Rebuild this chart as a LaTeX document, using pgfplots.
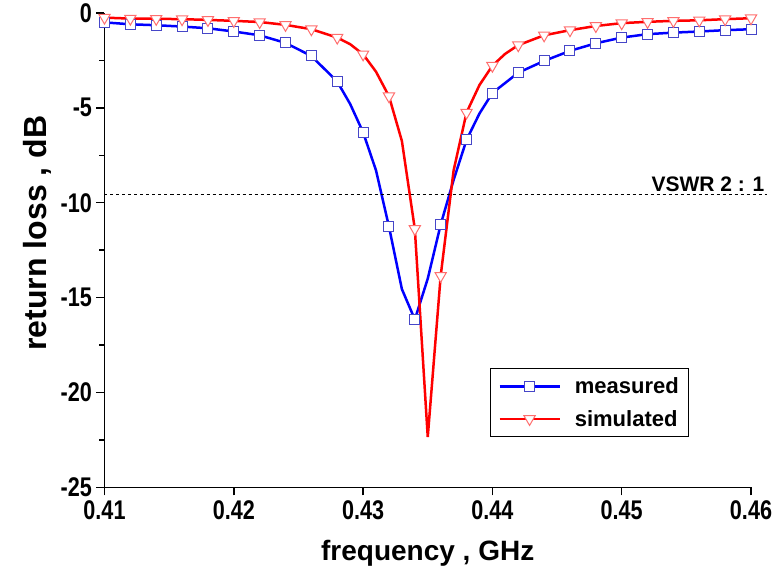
\documentclass[border=0pt]{standalone}
\usepackage{pgfplots}
\pgfplotsset{compat=1.18}
\usepackage{fontspec}
\setmainfont{Liberation Sans}
\newfontfamily\narrowfont{Liberation Sans}[FakeStretch=0.8]
\definecolor{mblue}{RGB}{70,70,200}
\definecolor{mred}{RGB}{255,110,110}
\begin{document}
\begin{tikzpicture}
\begin{axis}[
  scale only axis, width=646.5pt, height=474.6pt,
  xmin=0.41, xmax=0.46, ymin=-25, ymax=0,
  axis x line*=bottom, axis y line*=left,
  axis line style={line width=1.8pt},
  every tick/.style={black, line width=1.5pt},
  tick align=outside,
  major tick length=8pt, minor tick length=5pt,
  xtick={0.41,0.42,0.43,0.44,0.45,0.46},
  xticklabels={0.41,0.42,0.43,0.44,0.45,0.46},
  ytick={-25,-20,-15,-10,-5,0},
  minor ytick={-22.5,-17.5,-12.5,-7.5,-2.5},
  /pgf/number format/assume math mode=true,
  ticklabel style={font=\fontsize{27}{27}\selectfont\narrowfont\bfseries},
  xticklabel style={yshift=-2pt},
  yticklabel style={xshift=-1pt},
  xlabel={frequency , GHz},
  ylabel={return loss , dB},
  xlabel style={font=\fontsize{28}{28}\selectfont\bfseries, at={(axis description cs:0.5,-0.139)}, anchor=center},
  ylabel style={font=\fontsize{32}{32}\selectfont\bfseries, at={(axis description cs:-0.104,0.536)}, anchor=center},
  clip=false,
  legend style={at={(0.596,0.106)}, anchor=south west, draw=black, line width=1pt,
    font=\fontsize{22}{22}\selectfont\bfseries, inner xsep=8pt, inner ysep=7pt,
    row sep=11pt, cells={anchor=west},
    /tikz/every odd column/.append style={column sep=12pt}},
  legend cell align=left,
]
\addplot[blue, line width=2.5pt, forget plot] coordinates {
(0.410,-0.50) (0.412,-0.60) (0.414,-0.65) (0.416,-0.72) (0.418,-0.81)
(0.420,-0.98) (0.422,-1.18) (0.424,-1.58) (0.426,-2.27) (0.428,-3.62)
(0.429,-4.80) (0.430,-6.29) (0.431,-8.30) (0.432,-11.26) (0.433,-14.55)
(0.434,-16.15) (0.435,-14.00) (0.436,-11.15) (0.437,-8.80) (0.438,-6.69)
(0.439,-5.30) (0.440,-4.22) (0.442,-3.15) (0.444,-2.53) (0.446,-2.00)
(0.448,-1.60) (0.450,-1.30) (0.452,-1.12) (0.454,-1.04) (0.456,-0.98)
(0.458,-0.91) (0.460,-0.86)};
\addplot[red, line width=2.5pt, forget plot] coordinates {
(0.410,-0.25) (0.412,-0.30) (0.414,-0.31) (0.416,-0.33) (0.418,-0.37)
(0.420,-0.42) (0.422,-0.48) (0.424,-0.63) (0.426,-0.86) (0.428,-1.30)
(0.429,-1.65) (0.430,-2.18) (0.431,-3.10) (0.432,-4.39) (0.433,-6.75)
(0.434,-11.38) (0.435,-22.34) (0.436,-13.85) (0.437,-8.30) (0.438,-5.25)
(0.439,-3.80) (0.440,-2.78) (0.441,-2.15) (0.442,-1.70) (0.444,-1.18)
(0.446,-0.91) (0.448,-0.69) (0.450,-0.54) (0.452,-0.47) (0.454,-0.42)
(0.456,-0.39) (0.458,-0.33) (0.460,-0.28)};
\addplot[only marks, mark=square*, mark size=5pt, mark options={fill=white, draw=mblue, line width=1pt},
  legend image code/.code={
    \draw[blue, line width=2.5pt] (0pt,0pt) -- (60pt,0pt);
    \draw[mark options={fill=white, draw=mblue, line width=1pt}] plot[mark=square*, mark size=5pt] coordinates {(30pt,0pt)};
  }] coordinates {
(0.410,-0.50) (0.412,-0.60) (0.414,-0.65) (0.416,-0.72) (0.418,-0.81)
(0.420,-0.98) (0.422,-1.18) (0.424,-1.58) (0.426,-2.27) (0.428,-3.62)
(0.430,-6.29) (0.432,-11.26) (0.434,-16.15) (0.436,-11.15) (0.438,-6.69)
(0.440,-4.22) (0.442,-3.15) (0.444,-2.53) (0.446,-2.00) (0.448,-1.60)
(0.450,-1.30) (0.452,-1.12) (0.454,-1.04) (0.456,-0.98) (0.458,-0.91)
(0.460,-0.86)};
\addlegendentry{measured}
\addplot[only marks, mark=triangle*, mark size=6.5pt, mark options={fill=white, draw=mred, line width=1pt, rotate=180},
  legend image code/.code={
    \draw[red, line width=2.5pt] (0pt,0pt) -- (60pt,0pt);
    \draw[mark options={fill=white, draw=mred, line width=1pt, rotate=180}] plot[mark=triangle*, mark size=6.5pt] coordinates {(30pt,0pt)};
  }] coordinates {
(0.410,-0.25) (0.412,-0.30) (0.414,-0.31) (0.416,-0.33) (0.418,-0.37)
(0.420,-0.42) (0.422,-0.48) (0.424,-0.63) (0.426,-0.86) (0.428,-1.30)
(0.430,-2.18) (0.432,-4.39) (0.434,-11.38) (0.436,-13.85) (0.438,-5.25)
(0.440,-2.78) (0.442,-1.70) (0.444,-1.18) (0.446,-0.91) (0.448,-0.69)
(0.450,-0.54) (0.452,-0.47) (0.454,-0.42) (0.456,-0.39) (0.458,-0.33)
(0.460,-0.28)};
\addlegendentry{simulated}
\addplot[black, dashed, line width=1pt, forget plot] coordinates {(0.41,-9.54) (0.4612,-9.54)};
\node[anchor=south east, font=\fontsize{21}{21}\selectfont\bfseries, inner sep=2pt] at (axis cs:0.4612,-9.54) {VSWR 2 : 1};
\end{axis}
\useasboundingbox (-104.5pt,-91.7pt) rectangle (673.5pt,487.3pt);
\end{tikzpicture}
\end{document}
